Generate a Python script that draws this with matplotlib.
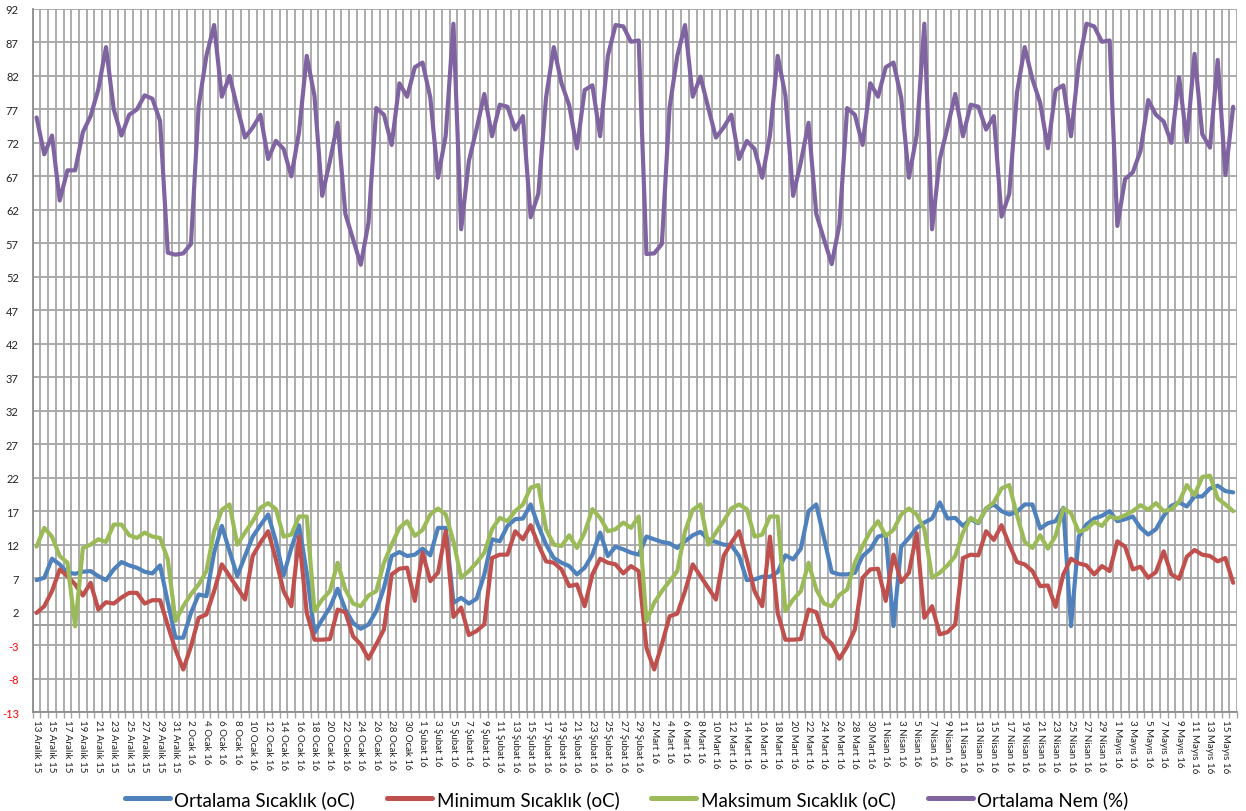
import matplotlib
matplotlib.use("Agg")
import matplotlib.pyplot as plt
import numpy as np
import pandas as pd

plt.rcParams['font.family'] = ['Lato', 'DejaVu Sans']

# ---- data ----
dates = pd.date_range('2015-12-13', '2016-05-16', freq='D')
month_names = {12: 'Aralık', 1: 'Ocak', 2: 'Şubat', 3: 'Mart', 4: 'Nisan', 5: 'Mayıs'}

avg_temp = [6.7, 7.05, 9.9, 9.05, 7.8, 7.65, 7.95, 8.05, 7.3, 6.7, 8.3, 9.4, 8.9, 8.55, 7.95, 7.7, 8.9, 3.4,
            -1.9, -1.9, 1.8, 4.55, 4.3, 10.8, 14.8, 11.0, 7.3, 10.3, 13.2, 14.9, 16.5, 12.5, 7.4, 11.5, 14.9, 7.8,
            -1.2, 0.8, 2.6, 5.4, 2.3, 0.3, -0.57, 0.07, 2.07, 5.55, 10.3, 10.9, 10.3, 10.5, 11.4, 10.4, 14.5,
            14.5, 3.3, 4.05, 3.2, 3.9, 7.55, 12.8, 12.5, 14.8, 15.8, 15.9, 18.0, 14.8, 12.0, 10.0, 9.3, 8.8, 7.55,
            8.55, 10.5, 13.8, 10.3, 11.7, 11.3, 10.8, 10.5, 13.2, 12.8, 12.4, 12.2, 11.5, 12.5, 13.4, 13.9, 12.8,
            12.4, 12.0, 11.9, 10.3, 6.7, 6.8, 7.2, 7.2, 7.9, 10.4, 9.8, 11.4, 17.0, 18.0, 13.0, 7.9, 7.55,
            7.55, 7.8, 10.3, 11.3, 13.2, 13.5, -0.17, 11.7, 13.0, 14.5, 15.3, 15.9, 18.3, 15.9, 16.0, 14.8, 15.8,
            15.2, 17.4, 18.0, 17.0, 16.5, 16.9, 18.0, 18.0, 14.4, 15.2, 15.5, 17.5, -0.17, 13.2, 15.0, 15.9, 16.3,
            17.0, 15.5, 15.8, 16.2, 14.5, 13.5, 14.3, 16.3, 17.8, 18.3, 17.7, 19.2, 19.2, 20.4, 20.8, 20.0, 19.8]

min_temp = [1.8, 2.8, 5.05, 8.3, 7.3, 6.05, 4.4, 6.3, 2.3, 3.4, 3.2, 4.1, 4.8, 4.8, 3.2, 3.7, 3.7, -0.07,
            -3.7, -6.65, -3.2, 1.07, 1.57, 5.05, 9.05, 7.3, 5.55, 3.8, 10.3, 12.3, 14.0, 9.8, 5.05, 2.8, 13.2, 1.8,
            -2.2, -2.2, -2.1, 2.3, 1.9, -1.7, -2.9, -5.05, -2.9, -0.67, 7.55, 8.4, 8.55, 3.6, 10.8, 6.55, 7.8,
            14.0, 1.2, 2.6, -1.5, -0.9, 0.1, 10.0, 10.5, 10.5, 14.0, 12.8, 14.9, 12.0, 9.5, 9.3, 8.3, 5.8, 6.05,
            2.8, 7.55, 9.9, 9.3, 9.05, 7.7, 8.8, 8.05, -3.4, -6.65, -2.9, 1.3, 1.7, 5.05, 9.05, 7.3, 5.55, 3.8,
            10.3, 12.3, 14.0, 9.8, 5.05, 2.8, 13.2, 1.8, -2.2, -2.2, -2.1, 2.3, 1.9, -1.7, -2.8, -5.05,
            -3.2, -0.67, 7.05, 8.3, 8.4, 3.6, 10.5, 6.4, 7.8, 13.7, 1.07, 2.8, -1.4, -1.07, 0.08, 10.0, 10.5,
            10.4, 14.0, 12.7, 14.9, 12.0, 9.4, 9.05, 8.05, 5.8, 5.9, 2.7, 7.55, 9.9, 9.2, 8.9, 7.55, 8.8,
            8.05, 12.5, 11.7, 8.3, 8.7, 7.05, 7.9, 11.0, 7.55, 6.9, 10.2, 11.2, 10.5, 10.3, 9.5, 10.0, 6.3]

max_temp = [11.7, 14.5, 13.2, 10.3, 9.3, -0.2, 11.5, 12.0, 12.8, 12.4, 15.0, 15.0, 13.4, 13.0, 13.8, 13.2, 13.0, 9.8,
            0.6, 2.8, 4.6, 6.05, 8.05, 14.0, 17.2, 18.0, 12.0, 13.8, 15.5, 17.5, 18.2, 17.3, 13.2, 13.5, 16.2, 16.2,
            2.07, 3.8, 5.05, 9.3, 5.3, 3.2, 2.8, 4.4, 5.05, 9.3, 12.0, 14.5, 15.5, 13.3, 14.2, 16.5, 17.4,
            16.5, 12.5, 7.05, 8.05, 9.3, 10.8, 14.3, 16.0, 15.5, 17.0, 18.0, 20.5, 20.9, 14.3, 12.0, 11.8, 13.4,
            11.5, 13.8, 17.3, 16.0, 14.0, 14.3, 15.3, 14.5, 16.2, 0.57, 3.3, 5.05, 6.55, 8.05, 14.0, 17.2, 18.0,
            12.0, 13.8, 15.5, 17.4, 18.0, 17.3, 13.2, 13.5, 16.2, 16.2, 2.07, 3.8, 5.05, 9.3, 5.3, 3.2, 2.8, 4.5,
            5.3, 9.3, 11.8, 14.0, 15.5, 13.3, 14.2, 16.5, 17.4, 16.5, 14.3, 7.05, 7.8, 8.9, 10.3, 13.8, 16.0,
            15.3, 17.4, 18.3, 20.4, 20.9, 16.4, 12.4, 11.5, 13.4, 11.4, 13.3, 17.4, 16.7, 13.9, 14.3, 15.4, 14.8,
            16.2, 15.9, 16.4, 17.0, 17.9, 17.2, 18.2, 17.0, 17.3, 18.4, 20.9, 19.4, 22.1, 22.3, 18.9, 18.0, 17.0]

humidity = [75.8, 70.3, 73.1, 63.4, 67.9, 67.9, 73.6, 76.0, 80.0, 86.3, 77.0, 73.1, 76.2, 77.0, 79.1, 78.6, 75.3, 55.6,
            55.3, 55.5, 56.9, 77.5, 85.0, 89.6, 78.9, 82.0, 77.3, 72.8, 74.3, 76.2, 69.6, 72.3, 71.1, 67.0, 73.6, 85.0,
            79.0, 64.1, 69.3, 75.0, 61.4, 57.6, 53.8, 60.1, 77.2, 76.2, 71.7, 80.9, 78.9, 83.3, 84.0, 78.8, 66.8,
            73.1, 89.8, 59.1, 69.3, 74.1, 79.3, 73.0, 77.7, 77.4, 74.0, 76.0, 60.9, 64.4, 78.8, 86.3, 80.9, 77.6,
            71.2, 79.9, 80.6, 73.0, 85.0, 89.6, 89.4, 87.1, 87.3, 55.4, 55.5, 56.9, 77.3, 85.0, 89.6, 78.9, 81.9,
            77.3, 72.8, 74.3, 76.2, 69.6, 72.3, 71.1, 66.8, 73.1, 85.0, 79.1, 64.1, 69.1, 75.0, 61.4, 57.6, 53.9, 59.8,
            77.2, 76.2, 71.7, 80.9, 78.9, 83.3, 84.0, 78.8, 66.8, 73.1, 89.8, 59.1, 69.6, 74.3, 79.3, 73.0, 77.7,
            77.4, 74.0, 76.0, 61.0, 64.4, 79.5, 86.3, 81.5, 78.0, 71.2, 79.9, 80.6, 73.0, 83.8, 89.8, 89.4, 87.1,
            87.3, 59.6, 66.6, 67.6, 70.8, 78.4, 76.2, 75.2, 72.0, 81.8, 72.2, 85.3, 73.3, 71.3, 84.4, 67.2, 77.4]

series_names = ['Ortalama Sıcaklık (oC)', 'Minimum Sıcaklık (oC)', 'Maksimum Sıcaklık (oC)', 'Ortalama Nem (%)']
series_colors = ['#4F81BD', '#C0504D', '#9BBB59', '#8064A2']
y_ticks = list(range(-13, 93, 5))

date_labels = [f"{d.day} {month_names[d.month]} {d.year % 100}" for d in dates]

# ---- figure ----
fig = plt.figure(figsize=(12.46, 8.12), dpi=100)
ax = fig.add_axes([0.02624, 0.1219, 0.96654, 0.8658])

x = np.arange(len(dates))
for vals, name, col in zip([avg_temp, min_temp, max_temp, humidity], series_names, series_colors):
    ax.plot(x, vals, color=col, lw=3.0, label=name, solid_joinstyle='round', solid_capstyle='round', zorder=3)

ax.set_xlim(-0.5, len(dates) - 0.5)
ax.set_ylim(-13, 92)

grid_col = '#A6A6A6'
# vertical gridlines at category boundaries
ax.set_xticks(np.arange(-0.5, len(dates), 1.0), minor=True)
ax.set_xticks(x[::2])
ax.set_xticklabels(date_labels[::2], rotation=-90, fontsize=7, color='#222222')
ax.tick_params(axis='x', which='major', length=0, pad=5)
ax.tick_params(axis='x', which='minor', length=4, color=grid_col, width=1.0, direction='out')
ax.grid(True, axis='x', which='minor', color=grid_col, lw=1.3, zorder=0)

ax.set_yticks(y_ticks)
ax.set_yticklabels([str(t) for t in y_ticks], fontsize=8)
for lbl, t in zip(ax.get_yticklabels(), y_ticks):
    lbl.set_color('#FF0000' if t < 0 else '#222222')
ax.tick_params(axis='y', length=0, pad=10)
ax.grid(True, axis='y', which='major', color=grid_col, lw=1.3, zorder=0)
ax.axhline(0, color='#959595', lw=1.3, zorder=1)

for s in ['top', 'right']:
    ax.spines[s].set_visible(False)
for s in ['left', 'bottom']:
    ax.spines[s].set_color('#8C8C8C')
    ax.spines[s].set_linewidth(1.3)

leg = fig.legend(loc='center', bbox_to_anchor=(0.503, 0.0148), ncol=4, frameon=False,
                 fontsize=13.5, handlelength=2.4, handletextpad=0.25, columnspacing=1.7)
for h in leg.get_lines():
    h.set_linewidth(3.6)

fig.savefig('out.png', dpi=100)
